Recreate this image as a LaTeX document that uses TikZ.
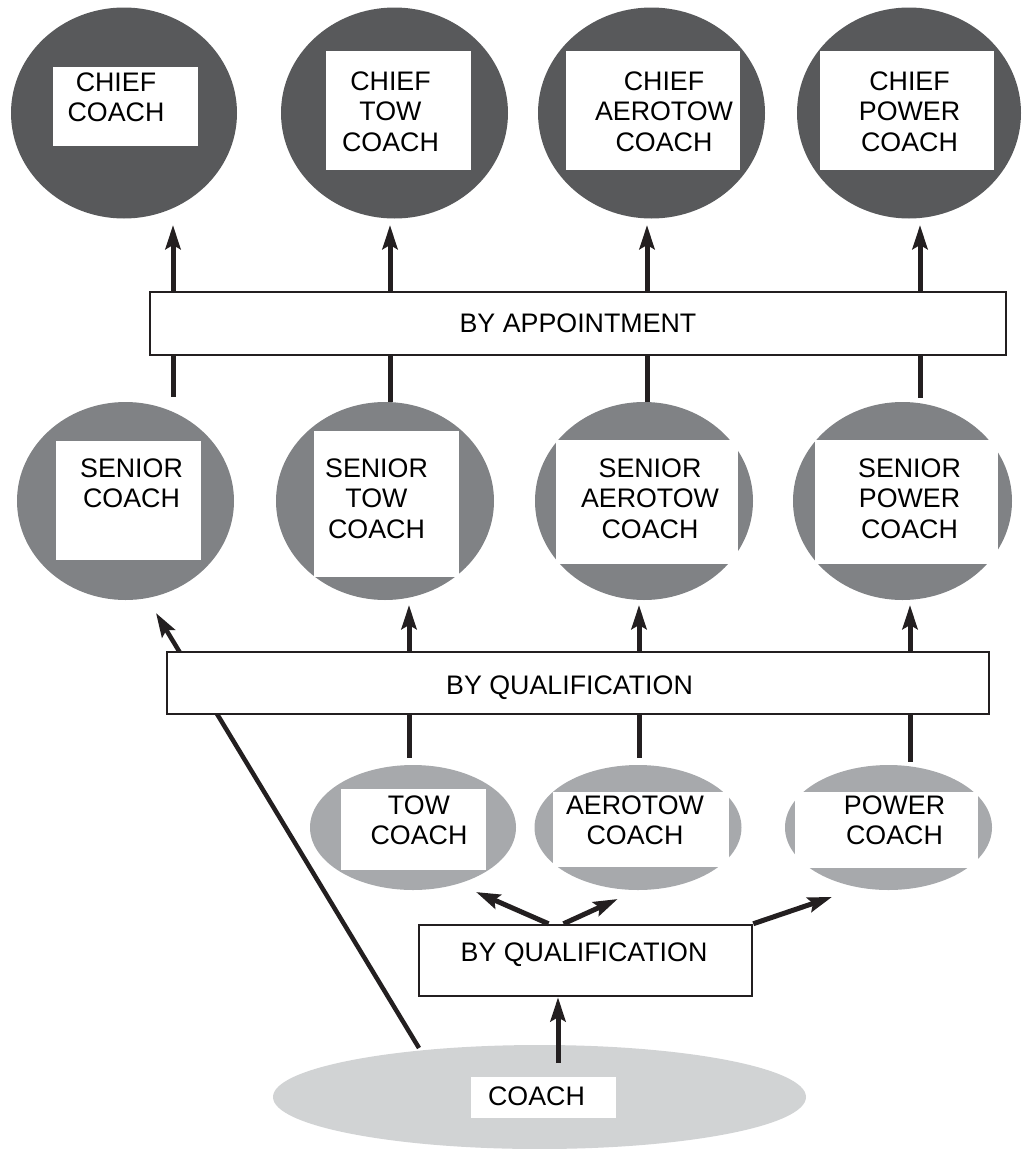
\documentclass[tikz,border=0pt]{standalone}
\usepackage{fontspec}
\setmainfont{Liberation Sans}
\usetikzlibrary{shapes.geometric,arrows.meta}
\definecolor{cdark}{HTML}{58595B}
\definecolor{cmid}{HTML}{808285}
\definecolor{clight}{HTML}{A7A9AC}
\definecolor{cpale}{HTML}{D1D3D4}
\definecolor{ink}{HTML}{231F20}
\tikzset{
  oval/.style={ellipse, draw=none, inner sep=0pt},
  wbox/.style={rectangle, fill=white, draw=none, inner sep=0pt},
  lbl/.style={align=center, inner sep=0pt, anchor=north, text=black, font=\fontsize{26.8}{30.5}\selectfont},
  band/.style={rectangle, draw=ink, line width=2.5pt, fill=white, inner sep=0pt},
  arr/.style={draw=ink, line width=5pt, -{Stealth[length=24pt,width=15pt,inset=4pt]}},
  link/.style={draw=ink, line width=5pt},
}
\begin{document}
\begin{tikzpicture}[x=1pt,y=-1pt]
\useasboundingbox (0,0) rectangle (1021,1149);
% ---- top row: chief coaches
\node[oval, fill=cdark, minimum width=226, minimum height=211] (C1) at (124,113) {};
\node[oval, fill=cdark, minimum width=227, minimum height=211] (C2) at (394.5,113) {};
\node[oval, fill=cdark, minimum width=227, minimum height=211] (C3) at (651.5,113) {};
\node[oval, fill=cdark, minimum width=224, minimum height=211] (C4) at (909,113) {};
\node[wbox, minimum width=145, minimum height=79] (RC1) at (125.5,106.5) {};
\node[wbox, minimum width=145, minimum height=119] (RC2) at (398.5,110.5) {};
\node[wbox, minimum width=174, minimum height=119] (RC3) at (653,110.5) {};
\node[wbox, minimum width=174, minimum height=119] (RC4) at (907,110.5) {};
\node[lbl] (TC1) at (116,72.5) {CHIEF\\COACH};
\node[lbl] (TC2) at (390.5,71.5) {CHIEF\\TOW\\COACH};
\node[lbl] (TC3) at (664,71.5) {CHIEF\\AEROTOW\\COACH};
\node[lbl] (TC4) at (909.5,71.5) {CHIEF\\POWER\\COACH};
% ---- middle row: senior coaches
\node[oval, fill=cmid, minimum width=217, minimum height=198] (S1) at (125.5,501) {};
\node[oval, fill=cmid, minimum width=218, minimum height=198] (S2) at (385,501) {};
\node[oval, fill=cmid, minimum width=218, minimum height=198] (S3) at (644,501) {};
\node[oval, fill=cmid, minimum width=219, minimum height=198] (S4) at (902.5,501) {};
\node[wbox, minimum width=145, minimum height=119] (RS1) at (128.5,500.5) {};
\node[wbox, minimum width=145, minimum height=146] (RS2) at (386.5,504) {};
\node[wbox, minimum width=182, minimum height=124] (RS3) at (647,502) {};
\node[wbox, minimum width=183, minimum height=124] (RS4) at (906.5,502) {};
\node[lbl] (TS1) at (131.5,458.5) {SENIOR\\COACH};
\node[lbl] (TS2) at (376.5,458.5) {SENIOR\\TOW\\COACH};
\node[lbl] (TS3) at (650,458.5) {SENIOR\\AEROTOW\\COACH};
\node[lbl] (TS4) at (909.5,458.5) {SENIOR\\POWER\\COACH};
% ---- lower row
\node[oval, fill=clight, minimum width=206, minimum height=125] (L1) at (413,827.5) {};
\node[oval, fill=clight, minimum width=207, minimum height=125] (L2) at (638,827.5) {};
\node[oval, fill=clight, minimum width=207, minimum height=125] (L3) at (888.5,827.5) {};
\node[wbox, minimum width=145, minimum height=81] (RL1) at (413.5,829.5) {};
\node[wbox, minimum width=176, minimum height=75] (RL2) at (640.5,829.5) {};
\node[wbox, minimum width=183, minimum height=76] (RL3) at (886.5,830) {};
\node[lbl] (TL1) at (419,795.5) {TOW\\COACH};
\node[lbl] (TL2) at (635,795.5) {AEROTOW\\COACH};
\node[lbl] (TL3) at (894.5,795.5) {POWER\\COACH};
% ---- coach
\node[oval, fill=cpale, minimum width=533, minimum height=104] (CO) at (539.5,1097) {};
\node[wbox, minimum width=145, minimum height=41] (RCO) at (543,1097.5) {};
\node[lbl] (TCO) at (536.5,1086.5) {COACH};
% ---- diagonal connector (behind the band)
\coordinate (dstart) at (419,1048);
\coordinate (dtip) at (156,613);
\draw[arr, line width=4.5pt] (dstart) -- (dtip);
% ---- bands
\node[band, minimum width=856, minimum height=63] (appt) at (578,323.5) {};
\node[lbl] (tappt) at (578,313.5) {BY APPOINTMENT};
\node[band, minimum width=822, minimum height=62] (qual1) at (578,683) {};
\node[lbl] (tqual1) at (569.5,675.5) {BY QUALIFICATION};
\node[band, minimum width=333, minimum height=71] (qual2) at (585.5,960.5) {};
\node[lbl] (tqual2) at (584,942.5) {BY QUALIFICATION};
% ---- connectors: appointment
\draw[arr] (173,0 |- appt.north) -- (173,225);
\draw[arr] (390,0 |- appt.north) -- (390,225);
\draw[arr] (647,0 |- appt.north) -- (647,225);
\draw[arr] (920,0 |- appt.north) -- (920,225);
\draw[link] (173,0 |- appt.south) -- (173,397);
\draw[link] (390,0 |- appt.south) -- (390,0 |- S2.north);
\draw[link] (647,0 |- appt.south) -- (647,0 |- S3.north);
\draw[link] (920,0 |- appt.south) -- (920,398);
% ---- connectors: qualification (upper)
\draw[arr] (409,0 |- qual1.north) -- (409,605);
\draw[arr] (639,0 |- qual1.north) -- (639,605);
\draw[arr] (910,0 |- qual1.north) -- (910,605);
\draw[link] (409,0 |- qual1.south) -- (409,758);
\draw[link] (639,0 |- qual1.south) -- (639,758);
\draw[link] (910,0 |- qual1.south) -- (910,762);
% ---- connectors: qualification (lower)
\draw[arr] (548.5,0 |- qual2.north) -- (476,892);
\draw[arr] (563.5,0 |- qual2.north) -- (617.7,899);
\draw[arr] (qual2.north east) -- (832,897);
\draw[arr] (558,1063) -- (558,0 |- qual2.south) ;
\end{tikzpicture}
\end{document}
